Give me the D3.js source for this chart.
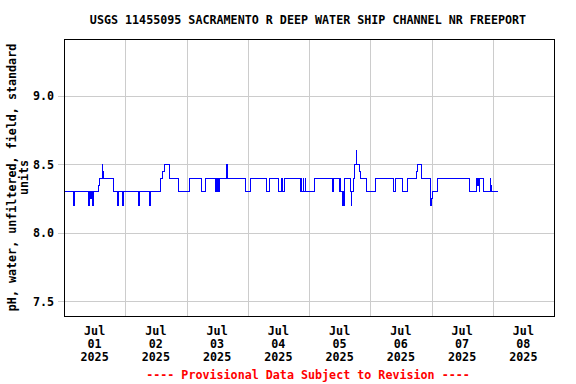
<!DOCTYPE html>
<html>
<head>
<meta charset="utf-8">
<script src="https://cdn.jsdelivr.net/npm/d3@7"></script>
<style>
	body { margin: 0; background: #fff; }
	text { font-family: "DejaVu Sans Mono", monospace; font-weight: bold; }
</style>
</head>
<body>
<svg id="chart" width="576" height="384"></svg>
<script>
// pH readings, as change points: value holds from that hour (after Jul 01 00:00) until the next one
var stepHours = [
	0, 3.75, 4, 9.75, 10, 10.5, 10.75, 11.25, 11.5, 13.5, 13.75, 15, 15.25, 15.5,
	19.25, 19.5, 21, 21.25, 23, 23.25, 29.25, 29.5, 33.5, 34, 37.75, 38.75, 39.25,
	41.25, 41.5, 45, 49, 53.75, 55.5, 59.25, 59.75, 60, 60.25, 60.5, 60.75, 63.5,
	63.75, 64, 71.25, 73, 79.5, 80.5, 84, 85.25, 85.5, 86.5, 92.5, 93, 93.25, 93.75,
	94, 94.5, 94.75, 98, 105.25, 105.75, 108, 108.25, 108.5, 109.25, 109.5, 109.75,
	110, 112.25, 112.5, 112.75, 113.25, 113.75, 114.5, 114.75, 115.75, 116, 118.5,
	122, 129.25, 130, 132.75, 134.5, 138.25, 138.5, 140, 143.5, 143.75, 144, 144.25,
	146.25, 158.75, 161.75, 162, 162.25, 162.75, 163, 164.5, 167, 167.25, 167.5, 170
];
var stepValues = [
	8.3, 8.2, 8.3, 8.2, 8.3, 8.25, 8.3, 8.2, 8.3, 8.35, 8.4, 8.5, 8.45, 8.4,
	8.35, 8.3, 8.2, 8.3, 8.2, 8.3, 8.2, 8.3, 8.2, 8.3, 8.4, 8.45, 8.5,
	8.45, 8.4, 8.3, 8.4, 8.3, 8.4, 8.3, 8.4, 8.3, 8.4, 8.3, 8.4, 8.45,
	8.5, 8.4, 8.3, 8.4, 8.3, 8.4, 8.3, 8.4, 8.3, 8.4, 8.3, 8.4, 8.3, 8.4,
	8.3, 8.4, 8.3, 8.4, 8.3, 8.4, 8.3, 8.4, 8.3, 8.2, 8.3, 8.2,
	8.4, 8.3, 8.2, 8.3, 8.4, 8.5, 8.6, 8.5, 8.45, 8.4, 8.3,
	8.4, 8.3, 8.4, 8.3, 8.4, 8.45, 8.5, 8.4, 8.3, 8.2, 8.25, 8.3,
	8.4, 8.3, 8.4, 8.35, 8.4, 8.3, 8.4, 8.3, 8.4, 8.35, 8.3, 8.3
];
var yTicks = [7.5, 8.0, 8.5, 9.0];
var dayLabels = ["01", "02", "03", "04", "05", "06", "07", "08"];

var TITLE = "USGS 11455095 SACRAMENTO R DEEP WATER SHIP CHANNEL NR FREEPORT";
var Y_TITLE = ["pH, water, unfiltered, field, standard", "units"];
var FOOTER = "---- Provisional Data Subject to Revision ----";

var FONT = "11.7px";
var svg = d3.select("#chart");
var plotL = 64, plotR = 554, plotT = 39, plotB = 316;
var start = new Date(2025, 6, 1);
var end = d3.timeDay.offset(start, 8);

var x = d3.scaleTime().domain([start, end]).range([plotL, plotR]);
var y = d3.scaleLinear().domain([7.394, 9.416]).range([plotB, plotT]);

var data = stepHours.map(function(h, i) {
	return { date: d3.timeMinute.offset(start, h * 60), value: stepValues[i] };
});

// grid
var grid = svg.append("g").attr("stroke", "#cccccc").attr("shape-rendering", "crispEdges");
grid.selectAll(".gy").data(yTicks).enter().append("line")
	.attr("x1", plotL - 6).attr("x2", plotR)
	.attr("y1", function(d) { return Math.round(y(d)) + 0.5; })
	.attr("y2", function(d) { return Math.round(y(d)) + 0.5; });
grid.selectAll(".gx").data(d3.timeDay.range(d3.timeDay.offset(start, 1), end)).enter().append("line")
	.attr("y1", plotT).attr("y2", plotB)
	.attr("x1", function(d) { return Math.round(x(d)) + 0.5; })
	.attr("x2", function(d) { return Math.round(x(d)) + 0.5; });

// y tick labels
svg.append("g").selectAll("text").data(yTicks).enter().append("text")
	.attr("x", plotL - 10).attr("y", function(d) { return y(d); })
	.attr("dy", "0.35em").attr("text-anchor", "end")
	.attr("font-size", FONT)
	.text(d3.format(".1f"));

// x labels at noon of each day
var xl = svg.append("g").attr("font-size", FONT).attr("text-anchor", "middle");
dayLabels.forEach(function(lab, i) {
	var cx = x(d3.timeHour.offset(start, i * 24 + 12));
	var t = xl.append("text").attr("x", cx);
	t.append("tspan").attr("x", cx).attr("y", 335).text("Jul");
	t.append("tspan").attr("x", cx).attr("y", 348).text(lab);
	t.append("tspan").attr("x", cx).attr("y", 361).text("2025");
});

// series
var line = d3.line()
	.x(function(d) { return x(d.date); })
	.y(function(d) { return y(d.value); })
	.curve(d3.curveStepAfter);
svg.append("path").datum(data)
	.attr("d", line)
	.attr("fill", "none")
	.attr("stroke", "#0000ff")
	.attr("stroke-width", 1)
	.attr("shape-rendering", "crispEdges");

// frame
svg.append("rect")
	.attr("x", plotL + 0.5).attr("y", plotT + 0.5)
	.attr("width", plotR - plotL).attr("height", plotB - plotT)
	.attr("fill", "none").attr("stroke", "#000").attr("stroke-width", 1)
	.attr("shape-rendering", "crispEdges");

svg.append("text").attr("x", 308).attr("y", 24).attr("text-anchor", "middle")
	.attr("font-size", FONT).text(TITLE);

Y_TITLE.forEach(function(s, i) {
	svg.append("text")
		.attr("transform", "translate(" + (16 + i * 12) + "," + ((plotT + plotB) / 2) + ") rotate(-90)")
		.attr("text-anchor", "middle").attr("font-size", FONT)
		.text(s);
});

svg.append("text").attr("x", 308).attr("y", 379).attr("text-anchor", "middle")
	.attr("font-size", FONT).attr("fill", "#ff0000").text(FOOTER);
</script>
</body>
</html>
